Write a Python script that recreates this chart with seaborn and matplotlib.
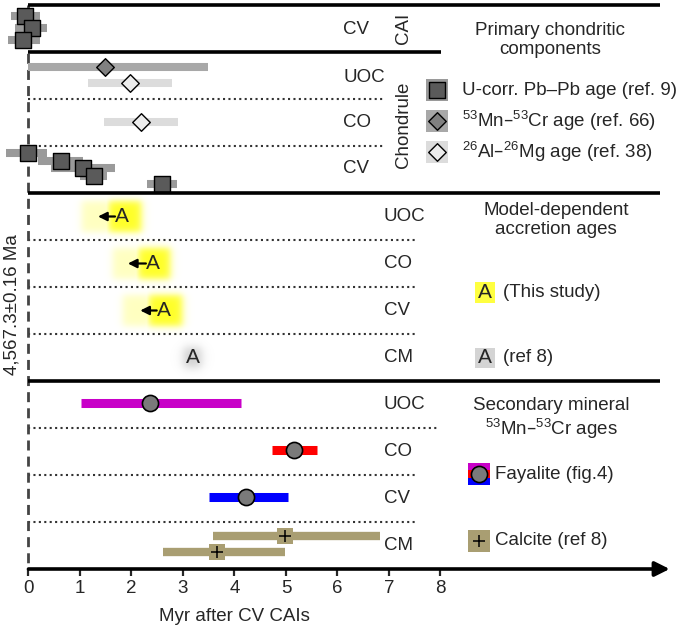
import numpy as np
import pandas as pd
import seaborn as sns
import matplotlib.pyplot as plt
from matplotlib.patches import Rectangle
from matplotlib.colors import to_rgb

sns.set_style('white')
plt.rcParams['font.family'] = ['Liberation Sans', 'DejaVu Sans']
plt.rcParams['mathtext.default'] = 'regular'

# ---- data (Myr after CV CAIs) ----
# CAI, U-corrected Pb-Pb ages
cai_age = [-0.07, 0.07, -0.10]
cai_lo = [-0.34, -0.26, -0.40]
cai_hi = [0.22, 0.36, 0.22]
# chondrules
uoc_mncr = [1.49, 0.00, 3.49]          # age, lo, hi
uoc_almg = [1.97, 1.15, 2.79]
co_almg = [2.18, 1.47, 2.90]
cv_pb_age = [0.00, 0.63, 1.06, 1.27, 2.59]
cv_pb_lo = [-0.44, 0.18, 0.44, 1.00, 2.30]
cv_pb_hi = [0.35, 1.06, 1.68, 1.53, 2.88]
# model-dependent accretion ages (this study): A, arrow tip, glow lo/mid/hi
acc_groups = ['UOC', 'CO', 'CV']
acc_age = [1.82, 2.42, 2.63]
acc_tip = [1.35, 1.93, 2.17]
acc_lo = [1.04, 1.64, 1.83]
acc_mid = [1.56, 2.13, 2.33]
acc_hi = [2.20, 2.75, 2.98]
cm_acc_age = 3.19
# secondary minerals, Mn-Cr ages
fay_groups = ['UOC', 'CO', 'CV']
fay_age = [2.36, 5.15, 4.22]
fay_lo = [1.02, 4.72, 3.50]
fay_hi = [4.13, 5.60, 5.03]
fay_colors = ['#c800c8', '#ff0000', '#0000ff']
cal_age = [4.98, 3.66]
cal_lo = [3.59, 2.62]
cal_hi = [6.83, 4.98]
xticks = list(range(9))

# ---- layout (rows: 1 unit per row, top = 0) ----
cai_y = [0.23, 0.49, 0.74]
uoc_mncr_y, uoc_almg_y, co_almg_y = 1.32, 1.66, 2.49
cv_pb_y = [3.15, 3.32, 3.47, 3.64, 3.81]
acc_y = [4.5, 5.5, 6.5]
cm_acc_y = 7.5
fay_y = [8.47, 9.47, 10.47]
cal_y = [11.3, 11.64]

c_dark = '#5a5a5a'
c_bar = '#9a9a9a'
c_mn = '#a8a8a8'
c_al = '#dcdcdc'
c_tan = '#a99e72'

XLIM = (-0.553, 12.748)
YLIM = (12, 0)
fig = plt.figure(figsize=(6.85, 6.29), dpi=100)
ax = fig.add_axes([0, 60 / 629, 1, 564 / 629])
for s in ax.spines.values():
    s.set_visible(False)

PX_X = 1 / 51.5
PX_Y = 1 / 47.0


def scat(x, y, **kw):
    df = pd.DataFrame({'x': x, 'y': y})
    sns.scatterplot(data=df, x='x', y='y', ax=ax, legend=False, **kw)


def soft_box(v, a, b, soft):
    return 0.5 * (np.tanh((v - a) / soft) - np.tanh((v - b) / soft))


def glow(parts, yc, h, color, softx=0.09, softy=0.09):
    # parts: list of (x0, x1, peak alpha)
    xa = min(p[0] for p in parts) - 4 * softx
    xb = max(p[1] for p in parts) + 4 * softx
    xs = np.linspace(xa, xb, 300)
    ys = np.linspace(yc - h / 2 - 4 * softy, yc + h / 2 + 4 * softy, 120)
    ay = soft_box(ys, yc - h / 2, yc + h / 2, softy)
    axx = np.zeros_like(xs)
    for x0, x1, pk in parts:
        axx = np.maximum(axx, pk * soft_box(xs, x0, x1, softx))
    alpha = np.clip(np.outer(ay, axx), 0, 1)
    rgba = np.zeros((len(ys), len(xs), 4))
    rgba[..., :3] = to_rgb(color)
    rgba[..., 3] = alpha
    ax.imshow(rgba, extent=(xa, xb, ys[-1], ys[0]), aspect='auto', zorder=1,
              interpolation='bilinear')


# frame lines
lw_thick = 2.6
ax.hlines([0, 4, 8], 0, 12.26, color='k', lw=lw_thick, clip_on=False, zorder=4)
ax.hlines(1, 0, 8.01, color='k', lw=lw_thick, zorder=4)
dot = dict(color='#333333', lw=1.5, linestyle=(0, (1, 1.6)), zorder=1)
ax.hlines([2, 3], 0, 6.92, **dot)
ax.hlines([5, 6, 7, 10, 11], 0, 7.56, **dot)
ax.hlines(9, 0, 7.95, **dot)
ax.vlines(0, 0, 12, color='#444444', lw=2, linestyles=(0, (3.6, 2.2)), zorder=2)

# ---- CAI ----
bar_h = 5.8
ax.hlines(cai_y, cai_lo, cai_hi, color=c_bar, lw=bar_h, zorder=2)
scat(cai_age, cai_y, marker='s', s=120, color=c_dark, edgecolor='k', linewidth=1, zorder=3)

# ---- chondrules ----
ax.hlines(uoc_mncr_y, uoc_mncr[1], uoc_mncr[2], color=c_mn, lw=bar_h, zorder=2)
ax.hlines(uoc_almg_y, uoc_almg[1], uoc_almg[2], color=c_al, lw=bar_h, zorder=2)
ax.hlines(co_almg_y, co_almg[1], co_almg[2], color=c_al, lw=bar_h, zorder=2)
scat([uoc_mncr[0]], [uoc_mncr_y], marker='D', s=80, color='#808080', edgecolor='k',
     linewidth=1, zorder=3)
scat([uoc_almg[0], co_almg[0]], [uoc_almg_y, co_almg_y], marker='D', s=80,
     color='#ececec', edgecolor='k', linewidth=1, zorder=3)
ax.hlines(cv_pb_y, cv_pb_lo, cv_pb_hi, color=c_bar, lw=bar_h, zorder=2)
scat(cv_pb_age, cv_pb_y, marker='s', s=120, color=c_dark, edgecolor='k', linewidth=1,
     zorder=3)

# ---- model-dependent accretion ages ----
for a, t, lo, mid, hi, y in zip(acc_age, acc_tip, acc_lo, acc_mid, acc_hi, acc_y):
    glow([(lo, mid + 0.1, 0.25), (mid, hi, 0.85)], y, 0.66, '#ffff00')
    ax.text(a, y, 'A', ha='center', va='center', fontsize=15, zorder=5)
    ax.annotate('', xy=(t, y), xytext=(a - 0.14, y),
                arrowprops=dict(arrowstyle='-|>', lw=1.6, color='k', mutation_scale=13,
                                shrinkA=0, shrinkB=0), zorder=5)
glow([(cm_acc_age - 0.17, cm_acc_age + 0.17, 0.5)], cm_acc_y, 0.42, '#9a9a9a',
     softx=0.11, softy=0.12)
ax.text(cm_acc_age, cm_acc_y, 'A', ha='center', va='center', fontsize=15, zorder=5)

# ---- secondary minerals ----
for a, lo, hi, y, c in zip(fay_age, fay_lo, fay_hi, fay_y, fay_colors):
    ax.hlines(y, lo, hi, color=c, lw=6.5, zorder=2)
scat(fay_age, fay_y, marker='o', s=135, color='#7a7a7a', edgecolor='k', linewidth=1.2,
     zorder=3)
ax.hlines(cal_y, cal_lo, cal_hi, color=c_tan, lw=6.0, zorder=2)
scat(cal_age, cal_y, marker='s', s=120, color=c_tan, edgecolor='none', zorder=3)
scat(cal_age, cal_y, marker='+', s=70, color='k', linewidth=1.1, zorder=4)

# ---- row labels ----
fs = 13.5
for y, lab in zip([0.53, 1.55, 2.49, 3.47], ['CV', 'UOC', 'CO', 'CV']):
    ax.text(6.11, y, lab, ha='left', va='center', fontsize=fs)
for y, lab in zip([4.5, 5.5, 6.5, 7.5, 8.5, 9.5, 10.5, 11.5],
                  ['UOC', 'CO', 'CV', 'CM', 'UOC', 'CO', 'CV', 'CM']):
    ax.text(6.9, y, lab, ha='left', va='center', fontsize=fs)
ax.text(7.29, 0.5, 'CAI', rotation=90, ha='center', va='center', fontsize=fs)
ax.text(7.29, 2.55, 'Chondrule', rotation=90, ha='center', va='center', fontsize=fs)

# ---- legend panel ----
ax.text(10.13, 0.74, 'Primary chondritic\ncomponents', ha='center', va='center',
        fontsize=fs, linespacing=1.15)
ix, iw, ih = 7.93, 22 * PX_X, 22 * PX_Y
tx = 8.42
for y, bg in zip([1.81, 2.47, 3.13], [c_bar, c_mn, c_al]):
    ax.add_patch(Rectangle((ix - iw / 2, y - ih / 2), iw, ih, facecolor=bg,
                           edgecolor='none', zorder=2))
scat([ix], [1.81], marker='s', s=120, color=c_dark, edgecolor='k', linewidth=1, zorder=3)
scat([ix], [2.47], marker='D', s=80, color='#808080', edgecolor='k', linewidth=1, zorder=3)
scat([ix], [3.13], marker='D', s=80, color='#ececec', edgecolor='k', linewidth=1, zorder=3)
dash = '\u2013'
ax.text(tx, 1.81, 'U-corr. Pb' + dash + 'Pb age (ref. 9)', va='center', fontsize=fs)
ax.text(tx, 2.47, r'$^{53}$Mn' + dash + r'$^{53}$Cr age (ref. 66)', va='center', fontsize=fs)
ax.text(tx, 3.13, r'$^{26}$Al' + dash + r'$^{26}$Mg age (ref. 38)', va='center', fontsize=fs)

ax.text(10.24, 4.57, 'Model-dependent\naccretion ages', ha='center', va='center',
        fontsize=fs, linespacing=1.15)
ax.add_patch(Rectangle((8.86 - 0.19, 6.11 - 0.22), 0.38, 0.44, facecolor='#ffff40',
                       edgecolor='none', zorder=2))
ax.text(8.86, 6.11, 'A', ha='center', va='center', fontsize=15, zorder=3)
ax.text(9.21, 6.11, '(This study)', va='center', fontsize=fs)
ax.add_patch(Rectangle((8.86 - 0.19, 7.51 - 0.22), 0.38, 0.44, facecolor='#d4d4d4',
                       edgecolor='none', zorder=2))
ax.text(8.86, 7.51, 'A', ha='center', va='center', fontsize=15, zorder=3)
ax.text(9.21, 7.51, '(ref 8)', va='center', fontsize=fs)

ax.text(10.15, 8.81, 'Secondary mineral\n' + r'$^{53}$Mn' + dash + r'$^{53}$Cr ages',
        ha='center', va='center', fontsize=fs, linespacing=1.15)
fx, fy = 8.75, 9.98
for k, c in enumerate(fay_colors):
    ax.add_patch(Rectangle((fx - iw / 2, fy - ih / 2 + k * ih / 3), iw, ih / 3,
                           facecolor=c, edgecolor='none', zorder=2))
scat([fx], [fy], marker='o', s=135, color='#7a7a7a', edgecolor='k', linewidth=1.2, zorder=3)
ax.text(9.06, fy, 'Fayalite (fig.4)', va='center', fontsize=fs)
cx, cy = 8.75, 11.4
ax.add_patch(Rectangle((cx - iw / 2, cy - ih / 2), iw, ih, facecolor=c_tan,
                       edgecolor='none', zorder=2))
scat([cx], [cy], marker='+', s=70, color='k', linewidth=1.1, zorder=4)
ax.text(9.06, cy, 'Calcite (ref 8)', va='center', fontsize=fs)

# x axis with arrow, limits and labels (after seaborn calls)
ax.set_xlim(*XLIM)
ax.set_ylim(*YLIM)
ax.annotate('', xy=(12.45, 12), xytext=(0, 12),
            arrowprops=dict(arrowstyle='-|>', lw=2.6, color='k', mutation_scale=22,
                            shrinkA=0, shrinkB=0), annotation_clip=False)
ax.set_xticks(xticks)
ax.set_xticklabels([str(t) for t in xticks])
ax.set_yticks([])
ax.tick_params(axis='x', direction='out', length=5, width=1.6, labelsize=13.5,
               pad=3, bottom=True)
ax.set_xlabel('')
ax.set_ylabel('')
ax.text(4.0, 13.02, 'Myr after CV CAIs', ha='center', va='center', fontsize=13.5,
        clip_on=False)
ax.text(-0.32, 6.38, '4,567.3\u00b10.16 Ma', rotation=90, ha='center', va='center',
        fontsize=13.5)

fig.savefig('out.png', dpi=100)
